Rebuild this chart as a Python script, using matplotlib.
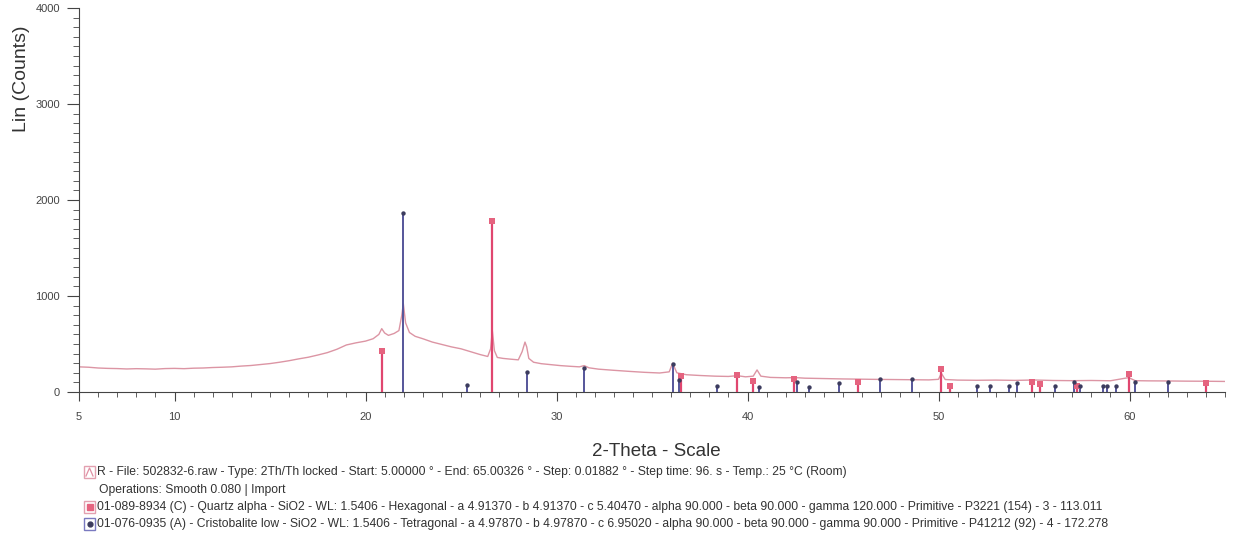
import numpy as np
import matplotlib.pyplot as plt
from matplotlib.lines import Line2D
from matplotlib.patches import Rectangle

plt.rcParams['font.family'] = ['Liberation Sans', 'DejaVu Sans']

two_theta = [5.0, 5.5, 6.0, 6.5, 7.0, 7.5, 8.0, 8.5, 9.0, 9.5, 10.0, 10.5, 11.0, 11.5,
             12.0, 12.5, 13.0, 13.5, 14.0, 14.5, 15.0, 15.5, 16.0, 16.5, 17.0, 17.5,
             18.0, 18.5, 19.0, 19.5, 20.0, 20.4, 20.7, 20.85, 21.0, 21.2, 21.5, 21.75,
             21.9, 21.98, 22.1, 22.3, 22.6, 23.0, 23.5, 24.0, 24.5, 25.0, 25.5, 26.0,
             26.4, 26.55, 26.64, 26.75, 26.9, 27.2, 27.6, 28.0, 28.2, 28.35, 28.44,
             28.55, 28.8, 29.2, 29.7, 30.2, 30.7, 31.2, 31.45, 31.7, 32.2, 33.0, 33.8,
             34.6, 35.4, 35.9, 36.08, 36.3, 36.8, 37.5, 38.3, 39.0, 39.46, 39.9, 40.3,
             40.5, 40.7, 41.2, 42.0, 42.5, 43.0, 44.0, 45.0, 45.8, 46.5, 47.5, 48.5,
             49.5, 50.0, 50.15, 50.35, 51.0, 52.0, 53.0, 54.0, 55.0, 56.0, 57.0, 58.0,
             59.0, 59.96, 60.3, 61.0, 62.0, 63.0, 64.0, 65.0]
counts = [262, 258, 250, 246, 244, 240, 243, 241, 238, 244, 246, 243, 248, 250,
          255, 258, 262, 270, 276, 286, 296, 310, 326, 345, 362, 385,
          410, 445, 490, 512, 530, 555, 600, 660, 615, 590, 610, 640,
          800, 920, 720, 620, 580, 555, 520, 495, 470, 450, 420, 390,
          370, 450, 640, 430, 360, 350, 342, 335, 420, 520, 470,
          350, 310, 295, 285, 275, 268, 262, 275, 252, 238, 226, 215,
          205, 198, 210, 300, 200, 180, 172, 165, 162, 170, 158, 165,
          230, 165, 152, 148, 150, 144, 140, 136, 134, 132, 130, 128,
          126, 132, 195, 130, 124, 122, 124, 121, 125, 120, 118, 120,
          117, 150, 118, 116, 115, 113, 112, 110]

# reference lines: Quartz alpha
quartz_pos = [20.86, 26.64, 36.54, 39.47, 40.29, 42.45, 45.79, 50.14, 50.62,
              54.87, 55.33, 57.24, 59.96, 64.03]
quartz_int = [430, 1780, 165, 175, 115, 135, 100, 240, 60, 100, 85, 65, 190, 90]

# reference lines: Cristobalite low
crist_pos = [21.98, 25.3, 28.44, 31.46, 36.08, 36.4, 38.4, 40.6, 42.6, 43.2, 44.8,
             46.96, 48.6, 52.0, 52.7, 53.7, 54.1, 56.1, 57.1, 57.4, 58.6, 58.8,
             59.3, 60.3, 62.0]
crist_int = [1860, 70, 210, 250, 290, 130, 60, 55, 100, 55, 95, 135, 135, 60, 60,
             60, 90, 60, 100, 60, 60, 60, 60, 100, 100]

W, H = 1238, 541
fig = plt.figure(figsize=(W / 100, H / 100), dpi=100)
ax = fig.add_axes([79 / W, 1 - 392 / H, (1225 - 79) / W, (392 - 8) / H])

ax.plot(two_theta, counts, color='#dc95a4', lw=1.0, zorder=2)

ax.vlines(quartz_pos, 0, quartz_int, color='#e0466f', lw=1.6, zorder=3)
ax.scatter(quartz_pos, quartz_int, marker='s', s=22, color='#e5637f', zorder=4,
           linewidths=0)
ax.vlines(crist_pos, 0, crist_int, color='#55559a', lw=1.4, zorder=3)
ax.scatter(crist_pos, crist_int, marker='o', s=10, color='#3c3c5e', zorder=4,
           linewidths=0)

ax.set_xlim(5, 65)
ax.set_ylim(0, 4000)
for s in ['top', 'right']:
    ax.spines[s].set_visible(False)
ax.spines['left'].set_color('#444444')
ax.spines['bottom'].set_color('#444444')

ax.set_xticks([5, 10, 20, 30, 40, 50, 60])
ax.set_xticks(np.arange(5, 66, 1), minor=True)
ax.set_yticks([0, 1000, 2000, 3000, 4000])
ax.set_yticks(np.arange(0, 4001, 100), minor=True)
ax.tick_params(axis='x', which='major', length=6.5, color='#444444', labelsize=8,
               labelcolor='#444444', pad=8)
ax.tick_params(axis='x', which='minor', length=3.6, color='#444444')
ax.tick_params(axis='y', which='major', length=8.6, color='#444444', labelsize=8,
               labelcolor='#444444', pad=5)
ax.tick_params(axis='y', which='minor', length=4, color='#444444')

fig.text(22 / W, 1 - 79 / H, 'Lin (Counts)', rotation=90, ha='center', va='center',
         fontsize=14, color='#333333')
fig.text(656 / W, 1 - 452 / H, '2-Theta - Scale', ha='center', va='center',
         fontsize=13.5, color='#333333')

leg_lines = [
    'R - File: 502832-6.raw - Type: 2Th/Th locked - Start: 5.00000 \u00b0 - End: 65.00326 \u00b0 - Step: 0.01882 \u00b0 - Step time: 96. s - Temp.: 25 \u00b0C (Room)',
    'Operations: Smooth 0.080 | Import',
    '01-089-8934 (C) - Quartz alpha - SiO2 - WL: 1.5406 - Hexagonal - a 4.91370 - b 4.91370 - c 5.40470 - alpha 90.000 - beta 90.000 - gamma 120.000 - Primitive - P3221 (154) - 3 - 113.011',
    '01-076-0935 (A) - Cristobalite low - SiO2 - WL: 1.5406 - Tetragonal - a 4.97870 - b 4.97870 - c 6.95020 - alpha 90.000 - beta 90.000 - gamma 90.000 - Primitive - P41212 (92) - 4 - 172.278',
]
leg_y = [472, 490, 507, 524]
leg_x = [97, 99, 97, 97]
for txt, y, x in zip(leg_lines, leg_y, leg_x):
    fig.text(x / W, 1 - y / H, txt, ha='left', va='center', fontsize=8.7, color='#333333')

# legend icons
icons = [(472, '#e3a0b0', None), (507, '#e3a0b0', ('s', '#e5637f')),
         (524, '#7a7ac0', ('o', '#3c3c5e'))]
for y, edge, mk in icons:
    fig.add_artist(Rectangle((84 / W, 1 - (y + 6) / H), 11 / W, 12 / H,
                             transform=fig.transFigure, fill=False, ec=edge, lw=1))
    if mk is not None:
        fig.add_artist(Line2D([89.5 / W], [1 - y / H], marker=mk[0], color=mk[1],
                              markersize=5 if mk[0] == 's' else 3.5,
                              transform=fig.transFigure))
fig.add_artist(Line2D([86 / W, 89.5 / W, 93 / W], [1 - 476 / H, 1 - 468 / H, 1 - 476 / H],
                      color='#e08fa3', lw=0.9, transform=fig.transFigure))

fig.savefig('out.png', dpi=100)
